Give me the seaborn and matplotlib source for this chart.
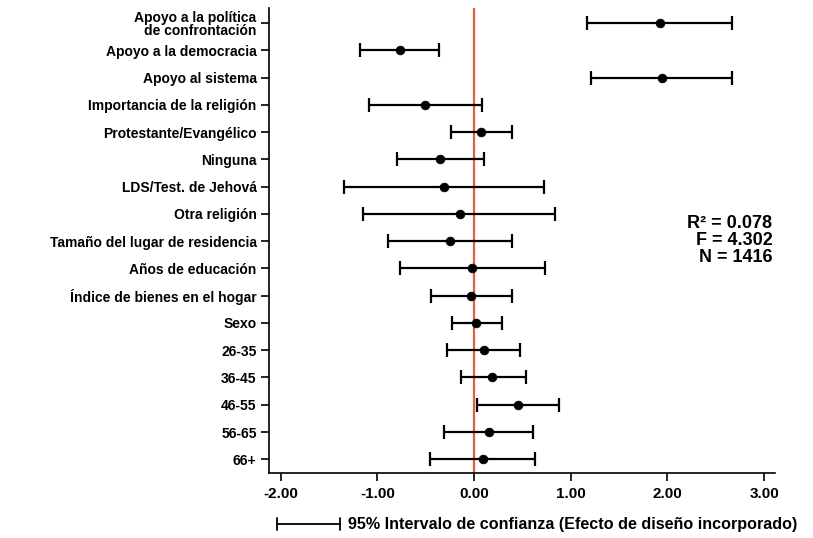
import numpy as np
import pandas as pd
import matplotlib
matplotlib.use("Agg")
import matplotlib.pyplot as plt
import seaborn as sns

variables = [
    "Apoyo a la política\nde confrontación",
    "Apoyo a la democracia",
    "Apoyo al sistema",
    "Importancia de la religión",
    "Protestante/Evangélico",
    "Ninguna",
    "LDS/Test. de Jehová",
    "Otra religión",
    "Tamaño del lugar de residencia",
    "Años de educación",
    "Índice de bienes en el hogar",
    "Sexo",
    "26-35",
    "36-45",
    "46-55",
    "56-65",
    "66+",
]
coef = [1.92, -0.77, 1.94, -0.51, 0.07, -0.35, -0.31, -0.15, -0.25, -0.02,
        -0.03, 0.02, 0.10, 0.19, 0.45, 0.15, 0.09]
ci_low = [1.17, -1.18, 1.21, -1.09, -0.24, -0.80, -1.35, -1.15, -0.89, -0.77,
          -0.45, -0.23, -0.28, -0.14, 0.03, -0.31, -0.46]
ci_high = [2.67, -0.36, 2.67, 0.08, 0.39, 0.10, 0.72, 0.84, 0.39, 0.73,
           0.39, 0.29, 0.48, 0.54, 0.88, 0.61, 0.63]
xticks = [-2, -1, 0, 1, 2, 3]
stats_text = "R² = 0.078\nF = 4.302\nN = 1416"
legend_text = "95% Intervalo de confianza (Efecto de diseño incorporado)"

df = pd.DataFrame({"var": variables, "coef": coef, "lo": ci_low, "hi": ci_high})
df["pos"] = np.arange(len(df))

sns.set_style("ticks")
plt.rcParams["font.family"] = ["Liberation Sans", "DejaVu Sans"]
plt.rcParams["font.weight"] = "bold"
plt.rcParams["text.color"] = "black"
plt.rcParams["xtick.color"] = "black"
plt.rcParams["ytick.color"] = "black"
plt.rcParams["axes.edgecolor"] = "black"

fig = plt.figure(figsize=(8.13, 5.38), dpi=100)
ax = fig.add_axes([0.331, 0.121, 0.622, 0.864])

ax.axvline(0, color="#e2603a", lw=1.6, zorder=1)
ax.errorbar(df["coef"], df["pos"],
            xerr=[df["coef"] - df["lo"], df["hi"] - df["coef"]],
            fmt="none", ecolor="black", elinewidth=1.6, capsize=5, capthick=1.6, zorder=2)
sns.scatterplot(data=df, x="coef", y="pos", color="black", s=40, edgecolor="black",
                zorder=3, ax=ax, legend=False)

ax.set_xlim(-2.12, 3.11)
ax.set_ylim(16.5, -0.55)
ax.set_yticks(df["pos"])
ax.set_yticklabels(df["var"], fontsize=10, fontweight="bold", linespacing=0.95)
ax.set_xticks(xticks)
ax.set_xticklabels([f"{t:.2f}" for t in xticks], fontsize=11, fontweight="bold")
ax.set_xlabel("")
ax.set_ylabel("")
for s in ["top", "right"]:
    ax.spines[s].set_visible(False)
for s in ["left", "bottom"]:
    ax.spines[s].set_linewidth(1.2)
ax.tick_params(axis="both", length=6, width=1.2, pad=3)
ax.tick_params(axis="x", pad=4)

ax.text(0.995, 0.50, stats_text, transform=ax.transAxes, ha="right", va="center",
        fontsize=13, fontweight="bold", linespacing=1.0)

# legend at bottom
fig.add_artist(plt.Line2D([0.341, 0.418], [0.026, 0.026], color="black", lw=1.3))
for xx in [0.341, 0.418]:
    fig.add_artist(plt.Line2D([xx, xx], [0.014, 0.038], color="black", lw=1.3))
fig.text(0.428, 0.026, legend_text, ha="left", va="center", fontsize=11.6, fontweight="bold")

fig.savefig("out.png", dpi=100)
